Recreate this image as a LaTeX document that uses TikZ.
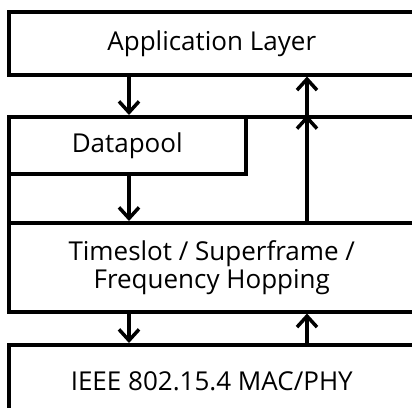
\documentclass[tikz,border=0pt]{standalone}
\usepackage{fontspec}
\setmainfont{Open Sans}
\usetikzlibrary{arrows.meta}
\begin{document}
\begin{tikzpicture}[x=1pt,y=-1pt,
  layer/.style={draw=black,line width=3.5pt,rectangle,inner sep=0pt,anchor=north west,font=\fontsize{26}{30}\selectfont,align=center},
  flow/.style={line width=3.5pt,-{Straight Barb[length=11pt,width=20pt,line width=3.5pt]}}]
\useasboundingbox (0,0) rectangle (412,407);
\clip (0,0) rectangle (412,407);
\node[layer,minimum width=406pt,minimum height=63pt] (app) at (7,10) {Application Layer};
\node[layer,minimum width=406pt,minimum height=106pt] (mid) at (7,115) {};
\node[layer,minimum width=237pt,minimum height=57pt] (dp) at (7,115) {Datapool};
\node[layer,minimum width=406pt,minimum height=89pt] (ts) at (7,221) {Timeslot / Superframe /\\[-2pt]Frequency Hopping};
\node[layer,minimum width=406pt,minimum height=74pt] (mac) at (7,343) {IEEE 802.15.4 MAC/PHY};
\coordinate (dx) at (129,0);
\coordinate (ux) at (307,0);
\draw[flow] (app.south -| dx) -- (mid.north -| dx);
\draw[flow] (dp.south -| dx) -- (ts.north -| dx);
\draw[flow] (ts.north -| ux) -- (mid.north -| ux);
\draw[flow] (mid.north -| ux) -- (app.south -| ux);
\draw[flow] (ts.south -| dx) -- (mac.north -| dx);
\draw[flow] (mac.north -| ux) -- (ts.south -| ux);
\end{tikzpicture}
\end{document}
